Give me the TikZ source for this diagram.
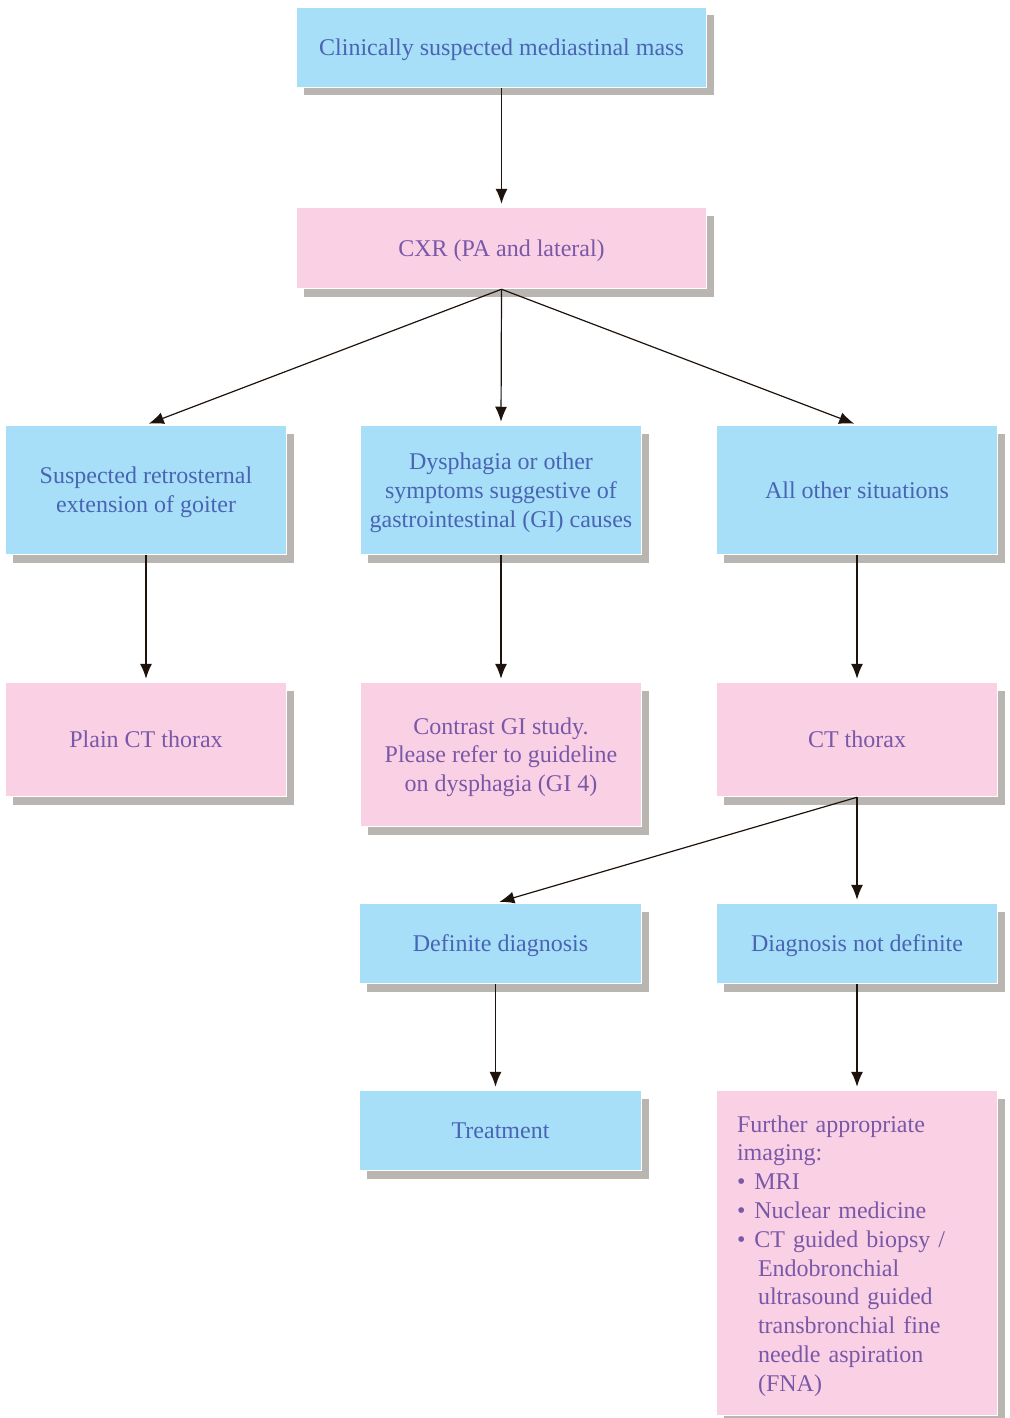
\documentclass[tikz,border=0pt]{standalone}
\usepackage{fontspec}
\setmainfont{Liberation Serif}
\usetikzlibrary{arrows.meta,shadows}
\definecolor{bluefill}{HTML}{A7DFF8}
\definecolor{pinkfill}{HTML}{FAD1E4}
\definecolor{bluetext}{HTML}{4A64B4}
\definecolor{pinktext}{HTML}{7A58A8}
\definecolor{shadowgray}{HTML}{B9B5B1}
\definecolor{arrowcol}{HTML}{1E130C}
\begin{document}
\begin{tikzpicture}[x=1pt,y=-1pt,
 box/.style={rectangle, draw=white, line width=1.5pt, inner sep=0pt, align=center,
   text depth=0pt,
   font=\fontsize{24}{28.8}\selectfont,
   drop shadow={shadow xshift=7pt, shadow yshift=-8pt, fill=shadowgray, opacity=1}},
 bluebox/.style={box, fill=bluefill, text=bluetext},
 pinkbox/.style={box, fill=pinkfill, text=pinktext},
 conn/.style={draw=arrowcol, line width=1.2pt, -{Latex[length=15pt,width=12pt]}, shorten >=3pt}]
\useasboundingbox[fill=white] (0,0) rectangle (1009,1418);

\node[bluebox, minimum width=410, minimum height=80] (top) at (501.5,47.5) {Clinically suspected mediastinal mass};
\node[pinkbox, minimum width=410, minimum height=81] (cxr) at (501.5,248) {CXR (PA and lateral)};

\node[bluebox, minimum width=281, minimum height=129] (s1) at (146,490) {Suspected retrosternal\\extension of goiter};
\node[bluebox, minimum width=281, minimum height=129] (s2) at (501,490) {Dysphagia or other\\symptoms suggestive of\\gastrointestinal (GI) causes};
\node[bluebox, minimum width=281, minimum height=129] (s3) at (857,490) {All other situations};

\node[pinkbox, minimum width=281, minimum height=114] (p1) at (146,739.5) {Plain CT thorax};
\node[pinkbox, minimum width=281, minimum height=144] (p2) at (501,754.5) {Contrast GI study.\\Please refer to guideline\\on dysphagia (GI 4)};
\node[pinkbox, minimum width=281, minimum height=114] (p3) at (857,739.5) {CT thorax};

\node[bluebox, minimum width=282, minimum height=80] (dd) at (500.5,943.5) {Definite diagnosis};
\node[bluebox, minimum width=281, minimum height=80] (nd) at (857,943.5) {Diagnosis not definite};

\node[bluebox, minimum width=282, minimum height=80] (tr) at (500.5,1130.5) {Treatment};
\node[pinkbox, text depth={}, minimum width=281, minimum height=325, text width=240pt, align=left] (fu) at (857,1253) {\rule{0pt}{22.6pt}Further appropriate\\
imaging:\\
\textbullet\hspace{9pt}MRI\\
\textbullet\hspace{9pt}Nuclear medicine\\
\textbullet\hspace{9pt}CT guided biopsy /\\
\hspace{21pt}Endobronchial\\
\hspace{21pt}ultrasound guided\\
\hspace{21pt}transbronchial fine\\
\hspace{21pt}needle aspiration\\
\hspace{21pt}(FNA)};

\draw[conn] (top.south) -- (cxr.north);
\draw[conn] (cxr.south) -- (s1.north);
\draw[conn] (cxr.south) -- (s2.north);
\draw[conn] (cxr.south) -- (s3.north);
\draw[conn] (s1.south) -- (p1.north);
\draw[conn] (s2.south) -- (p2.north);
\draw[conn] (s3.south) -- (p3.north);
\draw[conn] (p3.south) -- ([xshift=-4pt]dd.north);
\draw[conn] (p3.south) -- (nd.north);
\draw[conn] ([xshift=-5pt]dd.south) -- ([xshift=-5pt]tr.north);
\draw[conn] (nd.south) -- (fu.north);
\end{tikzpicture}
\end{document}
